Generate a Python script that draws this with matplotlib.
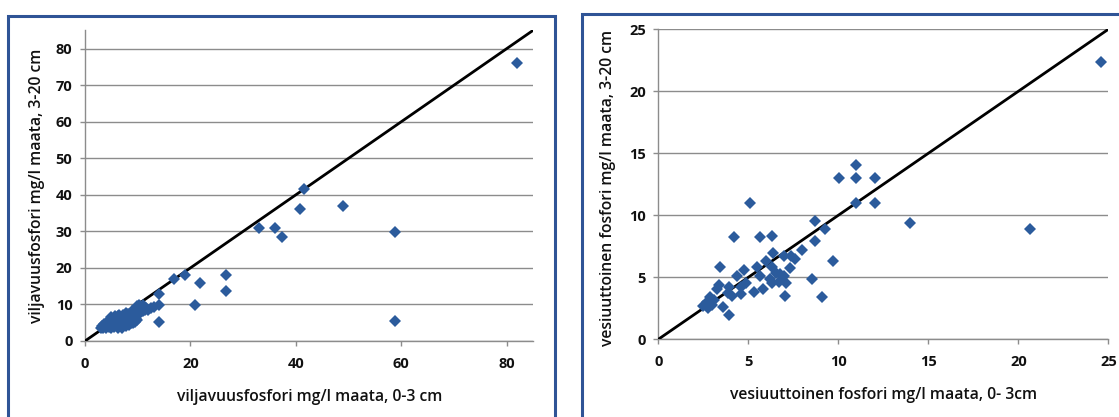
import matplotlib
matplotlib.use("Agg")
import matplotlib.pyplot as plt
from matplotlib.patches import Rectangle

# ---------------- data ----------------
# Left panel: viljavuusfosfori (mg/l maata) 0-3 cm vs 3-20 cm
vilja_x = [3.0, 3.3, 3.5, 3.8, 4.0, 4.0, 4.2, 4.5, 4.5, 4.8, 5.0, 5.0, 5.2, 5.3, 5.5,
           5.5, 5.7, 5.8, 6.0, 6.0, 6.2, 6.3, 6.5, 6.5, 6.7, 6.8, 7.0, 7.0, 7.2, 7.3,
           7.5, 7.5, 7.7, 7.8, 8.0, 8.0, 8.2, 8.3, 8.5, 8.5, 8.7, 8.8, 9.0, 9.0, 9.2,
           9.3, 9.5, 9.5, 9.7, 9.8, 10.0, 10.0, 10.2, 10.3, 10.5, 10.8, 11.0, 11.0,
           11.3, 11.5, 12.0, 12.5, 13.0, 6.2, 5.0, 4.3, 3.6, 7.8, 8.9, 9.8, 10.5,
           14.0, 14.0, 14.0, 16.9, 18.9, 20.9, 21.9, 26.7, 26.8, 33.0, 36.0, 37.4,
           40.8, 41.6, 48.9, 58.9, 58.9, 81.9]
vilja_y = [3.5, 4.0, 3.6, 4.2, 3.5, 4.8, 4.0, 5.2, 3.8, 4.5, 3.6, 5.5, 4.2, 6.0, 4.8,
           3.8, 6.8, 5.2, 4.0, 6.2, 5.0, 3.6, 5.8, 7.0, 4.5, 6.5, 5.2, 3.5, 6.0, 7.2,
           4.8, 5.6, 6.8, 4.2, 5.0, 6.3, 7.4, 4.5, 5.8, 7.0, 4.8, 6.4, 5.5, 7.6, 5.0,
           6.8, 5.2, 8.5, 6.0, 9.5, 7.2, 8.0, 9.8, 8.8, 7.8, 9.2, 8.2, 9.8,
           8.6, 9.0, 8.5, 9.0, 9.2, 6.8, 6.5, 4.4, 4.6, 7.6, 8.2, 5.8, 9.5,
           12.9, 9.8, 5.1, 17.0, 18.1, 9.9, 15.9, 18.1, 13.8, 30.9, 30.9, 28.5,
           36.0, 41.5, 36.9, 29.8, 5.6, 76.0]

# Right panel: vesiuuttoinen fosfori (mg/l maata) 0-3 cm vs 3-20 cm
vesi_x = [24.6, 20.66, 14.0, 10.99, 10.03, 10.99, 12.02, 10.99, 12.02, 5.12, 8.69,
          9.24, 8.69, 7.99, 9.72, 8.53, 9.12, 4.20, 5.63, 6.33, 3.41, 6.40, 6.98,
          7.40, 7.59, 7.32, 6.01, 5.47, 4.74, 4.40, 5.67, 6.33, 6.52, 6.98, 7.12,
          6.72, 6.33, 6.19, 4.86, 4.60, 4.62, 5.31, 5.79, 7.04, 3.95, 3.27, 3.39,
          3.87, 4.10, 3.57, 3.93, 2.88, 2.68, 2.48, 2.78, 2.97, 3.07, 6.78]
vesi_y = [22.4, 8.9, 9.4, 14.06, 13.04, 13.04, 13.04, 11.03, 11.03, 11.03, 9.55,
          8.91, 7.94, 7.19, 6.28, 4.88, 3.41, 8.24, 8.24, 8.37, 5.82, 6.92, 6.71,
          6.71, 6.44, 5.77, 6.28, 5.85, 5.58, 5.10, 5.10, 5.85, 5.31, 5.10, 4.56,
          4.61, 4.56, 4.88, 4.56, 4.19, 3.62, 3.78, 4.02, 3.49, 4.24, 4.02, 4.37,
          3.70, 3.49, 2.63, 1.99, 3.43, 3.03, 2.68, 2.50, 2.76, 3.17, 5.26]

left_ticks = [0, 10, 20, 30, 40, 50, 60, 70, 80]
left_xticks = [0, 20, 40, 60, 80]
left_max = 85
right_ticks = [0, 5, 10, 15, 20, 25]
right_max = 25

left_xlabel = "viljavuusfosfori mg/l maata, 0-3 cm"
left_ylabel = "viljavuusfosfori mg/l maata, 3-20 cm"
right_xlabel = "vesiuuttoinen fosfori mg/l maata, 0- 3cm"
right_ylabel = "vesiuuttoinen fosfori mg/l maata, 3-20 cm"

# ---------------- style ----------------
W, H = 1119, 417
FONT = ["Open Sans", "DejaVu Sans"]
plt.rcParams["font.family"] = FONT
MARK = "#2B5B9C"
BORDER = "#2F5496"
GRID = "#8C8C8C"
TXT = "#111111"

fig = plt.figure(figsize=(W / 100, H / 100), dpi=100)
fig.patch.set_facecolor("white")


def px_rect(x0, y0, x1, y1):
    # pixel coordinates (top-left origin) -> figure fraction [l, b, w, h]
    return [x0 / W, 1 - y1 / H, (x1 - x0) / W, (y1 - y0) / H]


# panel borders
for (x0, y0, x1, y1) in [(7.5, 15.5, 555, 440), (581.5, 13.5, 1140, 440)]:
    l, b, w, h = px_rect(x0, y0, x1, y1)
    fig.patches.append(Rectangle((l, b), w, h, transform=fig.transFigure,
                                 fill=False, edgecolor=BORDER, linewidth=2.2,
                                 clip_on=False))


def style_axes(ax, xmax, ymax, xticks, yticks):
    ax.set_xlim(0, xmax)
    ax.set_ylim(0, ymax)
    ax.set_xticks(xticks)
    ax.set_yticks(yticks)
    for s in ["top", "right"]:
        ax.spines[s].set_visible(False)
    for s in ["left", "bottom"]:
        ax.spines[s].set_color(GRID)
        ax.spines[s].set_linewidth(1.0)
    ax.grid(axis="y", color=GRID, linewidth=1.0)
    ax.set_axisbelow(True)
    ax.tick_params(axis="both", direction="out", length=3.5, width=1.0,
                   color=GRID, labelsize=10.5)
    ax.tick_params(axis="x", pad=8)
    ax.tick_params(axis="y", pad=5.5)
    for lab in ax.get_xticklabels() + ax.get_yticklabels():
        lab.set_fontweight("bold")
        lab.set_color(TXT)


# left axes
axL = fig.add_axes(px_rect(85, 30.4, 533, 341))
style_axes(axL, left_max, left_max, left_xticks, left_ticks)
axL.plot([0, left_max], [0, left_max], color="black", linewidth=2.0, zorder=3)
axL.plot(vilja_x, vilja_y, linestyle="none", marker="D", markersize=6.6,
         color=MARK, markeredgewidth=0, zorder=4, clip_on=False)

# right axes
axR = fig.add_axes(px_rect(658.3, 29.3, 1108.3, 339.3))
style_axes(axR, right_max, right_max, right_ticks, right_ticks)
axR.plot([0, right_max], [0, right_max], color="black", linewidth=2.0, zorder=3)
axR.plot(vesi_x, vesi_y, linestyle="none", marker="D", markersize=6.6,
         color=MARK, markeredgewidth=0, zorder=4, clip_on=False)

# axis titles
tk = dict(fontsize=11.3, color=TXT, fontweight="semibold")
fig.text(310 / W, 1 - 397 / H, left_xlabel, ha="center", va="center", **tk)
fig.text(37.5 / W, 1 - 186 / H, left_ylabel, ha="center", va="center",
         rotation=90, **tk)
fig.text(884 / W, 1 - 395 / H, right_xlabel, ha="center", va="center", **tk)
fig.text(608 / W, 1 - 188 / H, right_ylabel, ha="center", va="center",
         rotation=90, **tk)

fig.savefig("out.png", dpi=100, facecolor="white")
